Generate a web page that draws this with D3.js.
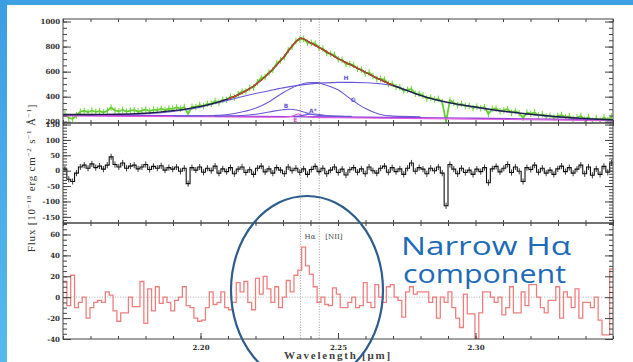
<!DOCTYPE html>
<html>
<head>
<meta charset="utf-8">
<script src="https://cdn.jsdelivr.net/npm/d3@7"></script>
<style>
  html, body { margin: 0; padding: 0; background: #fff; }
  svg { display: block; }
</style>
</head>
<body>
<svg id="chart" width="633" height="362"></svg>
<script>
// ---------------------------------------------------------------
// Spectral grid: uniform pixels starting at lam0, width dlam (μm)
// ---------------------------------------------------------------
const lam0 = 2.15;
const dlam = 0.0014;

// Observed spectrum (top panel), flux per pixel
const observed = [
  263,230,223,250,280,286,276,290,278,284,
  274,287,314,290,282,296,280,288,292,281,
  289,298,284,297,293,304,293,305,303,314,
  304,318,263,320,318,333,323,343,343,365,
  352,375,376,400,393,421,442,442,470,474,
  516,550,558,594,613,665,690,714,773,799,
  845,857,863,830,830,823,790,784,748,742,
  734,698,695,660,661,652,622,617,586,593,
  565,542,543,536,502,503,478,476,447,456,
  461,423,424,409,385,394,377,383,356,200,
  372,351,331,343,325,328,309,321,308,316,
  262,303,306,284,292,301,271,285,268,231,
  273,264,275,249,259,241,248,231,246,253,
  233,243,223,234,246,216,237,208,227,208,
  233,212,241
];

// Residuals of the full model (middle panel)
const residualAll = [
  5,-28,-35,-8,12,18,8,22,10,15,
  5,18,45,20,12,25,8,15,18,6,
  12,20,4,14,8,16,2,10,5,12,
  -2,8,-42,10,2,12,-5,8,0,15,
  -8,6,-3,10,-10,5,12,-6,3,-12,
  8,15,-4,6,-8,10,2,-10,12,0,
  8,-5,6,-12,4,14,-3,8,-10,2,
  12,-6,5,-14,3,10,-5,6,-10,12,
  0,-8,8,15,-5,10,-3,6,-12,8,
  25,-2,10,5,-10,8,0,12,-8,-114,
  20,5,-10,8,-6,2,-12,5,-3,10,
  -39,6,14,-4,8,20,-6,12,-2,-35,
  10,4,18,-5,8,-8,2,-12,6,15,
  -3,10,-8,5,18,-10,12,-15,6,-12,
  14,-5,25
];

// Residuals after removing the broad components (bottom panel)
const residualNarrow = [
  15,-8,21,-10,-5,0,-20,-10,-5,-3,
  -5,5,2,-13,-23,-15,-15,0,-9,-9,
  15,-25,8,-13,10,-6,0,-5,-13,-3,
  0,10,-8,-10,-20,-23,-22,-10,5,-7,
  -5,5,-10,-12,-5,14,5,15,-5,-12,
  18,3,20,8,-5,10,-10,0,16,5,
  21,26,48,30,22,10,-5,0,-7,-8,
  9,3,-10,-10,-5,0,-10,-8,14,-5,
  -10,12,0,-5,10,12,0,-3,-19,5,
  10,3,5,5,5,-5,0,-20,0,-5,
  5,-10,-20,-29,3,-16,-16,-40,-15,5,
  5,0,-5,0,-17,-10,10,-15,-15,5,
  -8,12,12,0,-10,-15,-3,-3,10,-20,
  5,0,-10,8,-20,-5,-5,-10,0,-22,
  -36,-36,27
];

// Total model
const fitWl = [2.150,2.155,2.160,2.165,2.170,2.175,2.180,2.185,2.190,2.195,
               2.200,2.205,2.210,2.215,2.220,2.225,2.230,2.235,2.2365,2.240,
               2.245,2.250,2.255,2.260,2.265,2.270,2.275,2.280,2.285,2.290,
               2.295,2.300,2.305,2.310,2.315,2.320,2.325,2.330,2.335,2.340,
               2.345,2.350];
const fitFlux = [258,258,258,259,260,263,268,276,288,303,
                 322,348,382,428,495,590,710,845,868,830,
                 770,705,650,595,540,490,450,410,378,355,
                 335,318,300,285,272,260,250,240,232,226,
                 220,216];
const fitCoreRange = [2.207, 2.272];

// Model components (continuum included)
const compHWl = [2.150,2.160,2.170,2.180,2.190,2.200,2.205,2.210,2.215,2.220,
                 2.225,2.230,2.235,2.240,2.245,2.250,2.255,2.260,2.265,2.270,
                 2.275,2.280,2.290,2.300,2.310,2.320,2.330,2.340,2.350];
const compHFlux = [256,257,258,264,283,316,343,372,400,425,
                   448,470,488,502,510,514,514,511,504,488,
                   452,410,352,315,283,258,238,224,214];
const compGWl = [2.190,2.200,2.205,2.210,2.215,2.220,2.225,2.230,2.235,2.2375,
                 2.240,2.2425,2.245,2.250,2.255,2.260,2.265,2.270,2.280];
const compGFlux = [247,247,250,258,278,308,360,432,488,505,
                   513,512,497,455,375,305,260,245,240];
const compBWl = [2.205,2.215,2.220,2.225,2.230,2.2325,2.235,2.2375,2.240,2.245,2.255];
const compBFlux = [245,250,260,278,296,300,294,278,260,247,243];
const compAWl = [2.234,2.237,2.2395,2.2415,2.244,2.247,2.252];
const compAFlux = [244,250,260,262,256,247,243];
const contWl = [2.15,2.20,2.25,2.30,2.35];
const contFlux = [254,246,238,228,215];
const compEWl = [2.15,2.20,2.230,2.2335,2.2355,2.2375,2.241,2.25,2.30,2.35];
const compEFlux = [247,240,236,245,262,246,234,232,221,208];

// Component labels: [text, wavelength, flux]
const compLabels = [["H",2.2529,553],["G",2.2555,375],["B",2.2311,327],["A*",2.2409,286]];
const compLabelE = ["E",2.2345,214];

// Emission-line markers
const lineWl = [2.2364, 2.2432];
const lineNames = ["Hα", "[NII]"];

// Axis ticks
const xMajorTicks = [2.20, 2.25, 2.30];
const fitTicks = [200, 400, 600, 800, 1000];
const resTicks = [-150, -100, -50, 0, 50, 100, 150];
const narTicks = [-40, -20, 0, 20, 40, 60];

// ---------------------------------------------------------------
const svg = d3.select("#chart");
const W = 633, H = 362;
const X0 = 63, X1 = 613;

const x = d3.scaleLinear().domain([2.15, 2.35]).range([X0, X1]);

const panels = [
  { id: "fit", y: d3.scaleLinear().domain([190, 1020]).range([123, 19]),
    major: fitTicks, minor: d3.range(200, 1001, 50) },
  { id: "res", y: d3.scaleLinear().domain([-170, 155]).range([223, 123]),
    major: resTicks, minor: d3.range(-170, 151, 10) },
  { id: "nar", y: d3.scaleLinear().domain([-40, 71]).range([339, 223]),
    major: narTicks, minor: d3.range(-40, 71, 5) }
];

// window frame
const defs = svg.append("defs");
const grad = defs.append("linearGradient").attr("id", "sideGrad")
  .attr("x1", 0).attr("y1", 0).attr("x2", 0).attr("y2", 1);
grad.append("stop").attr("offset", 0).attr("stop-color", "#3d9de2");
grad.append("stop").attr("offset", 1).attr("stop-color", "#55bbec");
svg.append("rect").attr("x", 0).attr("y", 0).attr("width", W).attr("height", 5).attr("fill", "#3fa0e4");
svg.append("rect").attr("x", 0).attr("y", 0).attr("width", 7).attr("height", H).attr("fill", "url(#sideGrad)");

panels.forEach(p => {
  const [yb, yt] = p.y.range();
  defs.append("clipPath").attr("id", "clip-" + p.id)
    .append("rect").attr("x", X0).attr("y", yt).attr("width", X1 - X0).attr("height", yb - yt);
  p.g = svg.append("g");
  p.plot = p.g.append("g").attr("clip-path", `url(#clip-${p.id})`);
});

const [pFit, pRes, pNar] = panels;
const centre = i => lam0 + (i + 0.5) * dlam;
const edge = i => lam0 + i * dlam;

// dotted line markers
panels.forEach(p => {
  const [yb, yt] = p.y.range();
  p.plot.selectAll("line.mark").data(lineWl).join("line")
    .attr("x1", d => x(d)).attr("x2", d => x(d))
    .attr("y1", yt).attr("y2", yb)
    .attr("stroke", "#8a8a8a").attr("stroke-width", 0.8)
    .attr("stroke-dasharray", "1,1.6");
});
pNar.plot.append("line")
  .attr("x1", X0).attr("x2", X1)
  .attr("y1", pNar.y(0)).attr("y2", pNar.y(0))
  .attr("stroke", "#9a9a9a").attr("stroke-width", 0.8).attr("stroke-dasharray", "1,1.6");

// ---- top panel: data and model ----
const obsErr = 26;
pFit.plot.selectAll("line.err").data(observed).join("line")
  .attr("x1", (d, i) => x(centre(i))).attr("x2", (d, i) => x(centre(i)))
  .attr("y1", d => pFit.y(d - obsErr)).attr("y2", d => pFit.y(d + obsErr))
  .attr("stroke", "#74d944").attr("stroke-width", 1.1);
pFit.plot.append("path").datum(observed)
  .attr("d", d3.line().x((d, i) => x(centre(i))).y(d => pFit.y(d)))
  .attr("fill", "none").attr("stroke", "#66d033").attr("stroke-width", 1.8)
  .attr("stroke-linejoin", "round");

const modelLine = d3.line().x(d => x(d[0])).y(d => pFit.y(d[1])).curve(d3.curveMonotoneX);
const zipped = (wl, fl) => wl.map((w, i) => [w, fl[i]]);

pFit.plot.append("path").datum(zipped(contWl, contFlux)).attr("d", modelLine)
  .attr("fill", "none").attr("stroke", "#8b3fd9").attr("stroke-width", 1.3);
pFit.plot.append("path").datum(zipped(compEWl, compEFlux)).attr("d", modelLine)
  .attr("fill", "none").attr("stroke", "#e05ae0").attr("stroke-width", 1.2);
[[compHWl, compHFlux], [compGWl, compGFlux], [compBWl, compBFlux], [compAWl, compAFlux]]
  .forEach(([wl, fl]) => {
    pFit.plot.append("path").datum(zipped(wl, fl)).attr("d", modelLine)
      .attr("fill", "none").attr("stroke", "#6a5ad8").attr("stroke-width", 1.1);
  });
const fitPts = zipped(fitWl, fitFlux);
pFit.plot.append("path").datum(fitPts).attr("d", modelLine)
  .attr("fill", "none").attr("stroke", "#1d1f45").attr("stroke-width", 1.3);
pFit.plot.append("path")
  .datum(fitPts.filter(d => d[0] >= fitCoreRange[0] && d[0] <= fitCoreRange[1]))
  .attr("d", modelLine)
  .attr("fill", "none").attr("stroke", "#c8452c").attr("stroke-width", 1.3);

pFit.g.selectAll("text.comp").data(compLabels).join("text")
  .attr("x", d => x(d[1])).attr("y", d => pFit.y(d[2])).attr("dy", "0.35em")
  .attr("text-anchor", "middle")
  .style("font-family", "DejaVu Sans").style("font-size", "6px").style("font-weight", "bold")
  .attr("fill", "#6a5ad8").text(d => d[0]);
pFit.g.append("text")
  .attr("x", x(compLabelE[1])).attr("y", pFit.y(compLabelE[2])).attr("dy", "0.35em")
  .attr("text-anchor", "middle")
  .style("font-family", "DejaVu Sans").style("font-size", "6px").style("font-weight", "bold")
  .attr("fill", "#d94fd9").text(compLabelE[0]);

// ---- histogram residuals ----
function stepPath(vals, y) {
  const pts = vals.map((v, i) => [edge(i), v]);
  pts.push([edge(vals.length), vals[vals.length - 1]]);
  return d3.line().x(d => x(d[0])).y(d => y(d[1])).curve(d3.curveStepAfter)(pts);
}
const resErr = 10;
pRes.plot.selectAll("line.err").data(residualAll).join("line")
  .attr("x1", (d, i) => x(centre(i))).attr("x2", (d, i) => x(centre(i)))
  .attr("y1", d => pRes.y(d - resErr)).attr("y2", d => pRes.y(d + resErr))
  .attr("stroke", "#222").attr("stroke-width", 0.9);
pRes.plot.append("path").attr("d", stepPath(residualAll, pRes.y))
  .attr("fill", "none").attr("stroke", "#111").attr("stroke-width", 1.1);

pNar.plot.append("path").attr("d", stepPath(residualNarrow, pNar.y))
  .attr("fill", "none").attr("stroke", "#ef7f7f").attr("stroke-width", 1.3);

// line names in the bottom panel
pNar.g.selectAll("text.ln").data(lineWl).join("text")
  .attr("x", (d, i) => x(d) + (i === 0 ? 4 : 6)).attr("y", 239)
  .style("font-family", "DejaVu Serif").style("font-size", "7px")
  .attr("fill", "#444").text((d, i) => lineNames[i]);

// ---- frames and axes ----
const tickFont = g => g.selectAll("text")
  .style("font-family", "DejaVu Serif").style("font-size", "7px").style("font-weight", "bold")
  .attr("fill", "#333");
const tickStroke = g => { g.select(".domain").remove(); g.selectAll("line").attr("stroke", "#444"); };
const xMinor = d3.range(2.15, 2.3501, 0.01);

panels.forEach((p, k) => {
  const [yb, yt] = p.y.range();
  p.g.append("rect").attr("x", X0).attr("y", yt).attr("width", X1 - X0).attr("height", yb - yt)
    .attr("fill", "none").attr("stroke", "#444").attr("stroke-width", 1);

  p.g.append("g").attr("transform", `translate(${X0},0)`)
    .call(d3.axisLeft(p.y).tickValues(p.minor).tickSize(-4).tickFormat(""))
    .call(tickStroke);
  p.g.append("g").attr("transform", `translate(${X0},0)`)
    .call(d3.axisLeft(p.y).tickValues(p.major).tickSize(-8).tickPadding(3).tickFormat(d => String(d)))
    .call(tickStroke).call(tickFont);
  p.g.append("g").attr("transform", `translate(${X1},0)`)
    .call(d3.axisRight(p.y).tickValues(p.minor).tickSize(-4).tickFormat(""))
    .call(tickStroke);
  p.g.append("g").attr("transform", `translate(${X1},0)`)
    .call(d3.axisRight(p.y).tickValues(p.major).tickSize(-8).tickFormat(""))
    .call(tickStroke);

  p.g.append("g").attr("transform", `translate(0,${yt})`)
    .call(d3.axisTop(x).tickValues(xMinor).tickSize(-3).tickFormat(""))
    .call(tickStroke);
  p.g.append("g").attr("transform", `translate(0,${yb})`)
    .call(d3.axisBottom(x).tickValues(xMinor).tickSize(-3).tickFormat(""))
    .call(tickStroke);
});
pNar.g.append("g").attr("transform", `translate(0,${pNar.y.range()[0]})`)
  .call(d3.axisBottom(x).tickValues(xMajorTicks).tickSize(-6).tickPadding(6).tickFormat(d3.format(".2f")))
  .call(tickStroke).call(tickFont);

// axis titles
const yTitle = svg.append("text")
  .attr("transform", "translate(35,178) rotate(-90)")
  .attr("text-anchor", "middle")
  .style("font-family", "Liberation Serif").style("font-size", "11px")
  .style("letter-spacing", "0.8px")
  .attr("fill", "#333");
const yParts = [["Flux [10", false], ["−18", true], [" erg cm", false], ["−2", true],
                [" s", false], ["−1", true], [" Å", false], ["−1", true], ["]", false]];
let raised = false;
yParts.forEach(([t, sup]) => {
  const dy = sup === raised ? 0 : (sup ? -4 : 4);
  raised = sup;
  yTitle.append("tspan").attr("dy", dy).style("font-size", sup ? "7px" : "11px").text(t);
});

svg.append("text")
  .attr("x", 338).attr("y", 359).attr("text-anchor", "middle")
  .style("font-family", "Liberation Serif").style("font-size", "11px").style("font-weight", "bold")
  .style("letter-spacing", "1.8px")
  .attr("fill", "#444").text("Wavelength [μm]");

// annotation
svg.append("ellipse")
  .attr("cx", 307).attr("cy", 290).attr("rx", 76).attr("ry", 94)
  .attr("fill", "none").attr("stroke", "#2f5d8c").attr("stroke-width", 2.2);
svg.append("text").attr("x", 401).attr("y", 255)
  .attr("textLength", 170).attr("lengthAdjust", "spacingAndGlyphs")
  .style("font-family", "Open Sans").style("font-size", "25px")
  .attr("fill", "#1e6bb8").text("Narrow Hα");
svg.append("text").attr("x", 403).attr("y", 283)
  .attr("textLength", 163).attr("lengthAdjust", "spacingAndGlyphs")
  .style("font-family", "Open Sans").style("font-size", "25px")
  .attr("fill", "#1e6bb8").text("component");
</script>
</body>
</html>
